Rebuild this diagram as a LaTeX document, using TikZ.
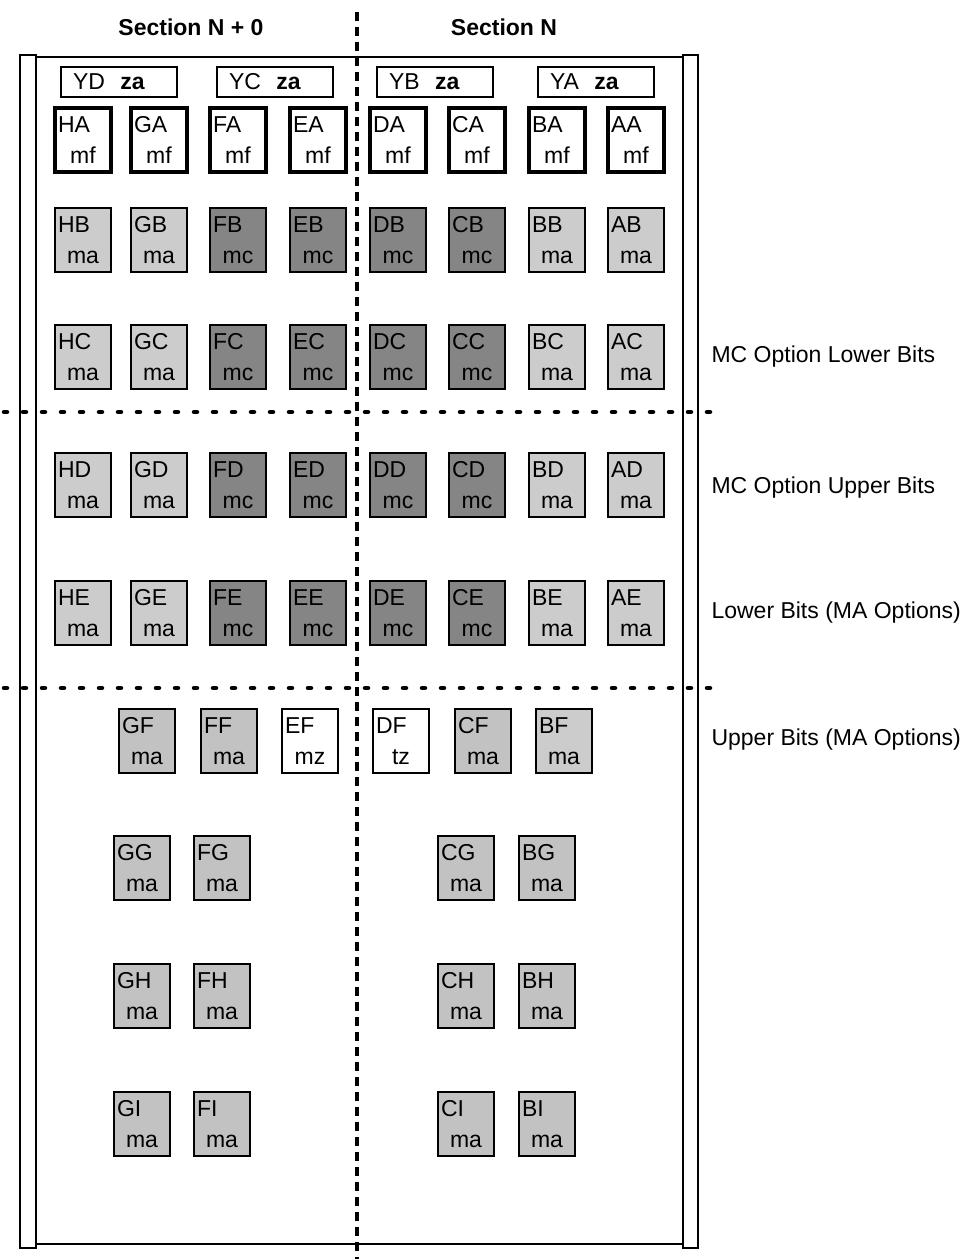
\documentclass[tikz,border=0pt]{standalone}
\usepackage{fontspec}
\setmainfont{Liberation Sans}
\newcommand\diagfont{\fontsize{23}{31}\selectfont}
\definecolor{lightstip}{gray}{0.80}
\definecolor{lowstip}{gray}{0.76}
\definecolor{darkstip}{gray}{0.52}
\tikzset{
  cell/.style={draw, line width=1.5pt, text width=50pt, inner xsep=3pt, minimum height=64pt, align=center},
  cell mf/.style={cell, line width=3.5pt},
  cell ma/.style={cell, fill=lightstip},
  cell mb/.style={cell, fill=lowstip},
  cell mc/.style={cell, fill=darkstip},
  cell open/.style={cell},
  zabox/.style={draw, line width=1.3pt, text width=92pt, inner xsep=12pt, minimum height=30pt, align=left},
  divider/.style={line width=4.5pt, line cap=round, dash pattern=on 3pt off 16pt},
  splitline/.style={line width=3.5pt, dash pattern=on 9pt off 6pt},
}

\begin{document}
\begin{tikzpicture}[x=1pt, y=-1pt, every node/.append style={font=\diagfont}]
    \useasboundingbox (0,0) rectangle (968,1259);
    % frame
    \draw[line width=1.5pt] (20,55) rectangle (36,1248);
    \draw[line width=1.5pt] (683,55) rectangle (698,1248);
    \draw[line width=1.5pt] (36,57) -- (683,57) (36,1244) -- (683,1244);
    % section split and bit dividers
    \draw[splitline] (357,12) -- (357,1259);
    \draw[divider] (4,412) -- (712,412);
    \draw[divider] (4,688) -- (712,688);
    \node[font=\diagfont\bfseries] (secNzero) at (191,27) {Section N + 0};
    \node[font=\diagfont\bfseries] (secN) at (504,27) {Section N};
    % za boxes
    \node[zabox] (YD) at (119,82) {YD\ \ \textbf{za}};
    \node[zabox] (YC) at (275,82) {YC\ \ \textbf{za}};
    \node[zabox] (YB) at (435,82) {YB\ \ \textbf{za}};
    \node[zabox] (YA) at (596,82) {YA\ \ \textbf{za}};
    % top row
    \foreach \col/\x in {H/83,G/159,F/238,E/318,D/398,C/477,B/557,A/636}
        \node[cell mf] (\col A) at (\x,140) {\makebox[50pt][l]{\col A}\\mf};
    % rows B to E
    \foreach \col/\x/\kind in {H/83/ma,G/159/ma,F/238/mc,E/318/mc,D/398/mc,C/477/mc,B/557/ma,A/636/ma}
        \foreach \row/\y in {B/240,C/357,D/485,E/613}
            \node[cell \kind] (\col\row) at (\x,\y) {\makebox[50pt][l]{\col\row}\\\kind};
    % row F
    \node[cell mb] (GF) at (147,741) {\makebox[50pt][l]{GF}\\ma};
    \node[cell mb] (FF) at (229,741) {\makebox[50pt][l]{FF}\\ma};
    \node[cell open] (EF) at (310,741) {\makebox[50pt][l]{EF}\\mz};
    \node[cell open] (DF) at (401,741) {\makebox[50pt][l]{DF}\\tz};
    \node[cell mb] (CF) at (483,741) {\makebox[50pt][l]{CF}\\ma};
    \node[cell ma] (BF) at (564,741) {\makebox[50pt][l]{BF}\\ma};
    % rows G to I
    \foreach \col/\x in {G/142,F/222,C/466,B/547}
        \foreach \row/\y in {G/868,H/996,I/1124}
            \node[cell mb] (\col\row) at (\x,\y) {\makebox[50pt][l]{\col\row}\\ma};
    % bit labels
    \node[anchor=west] (mcLow) at (708,357) {MC Option Lower Bits};
    \node[anchor=west] (mcUp) at (708,488) {MC Option Upper Bits};
    \node[anchor=west] (maLow) at (708,613) {Lower Bits (MA Options)};
    \node[anchor=west] (maUp) at (708,740) {Upper Bits (MA Options)};
\end{tikzpicture}
\end{document}
